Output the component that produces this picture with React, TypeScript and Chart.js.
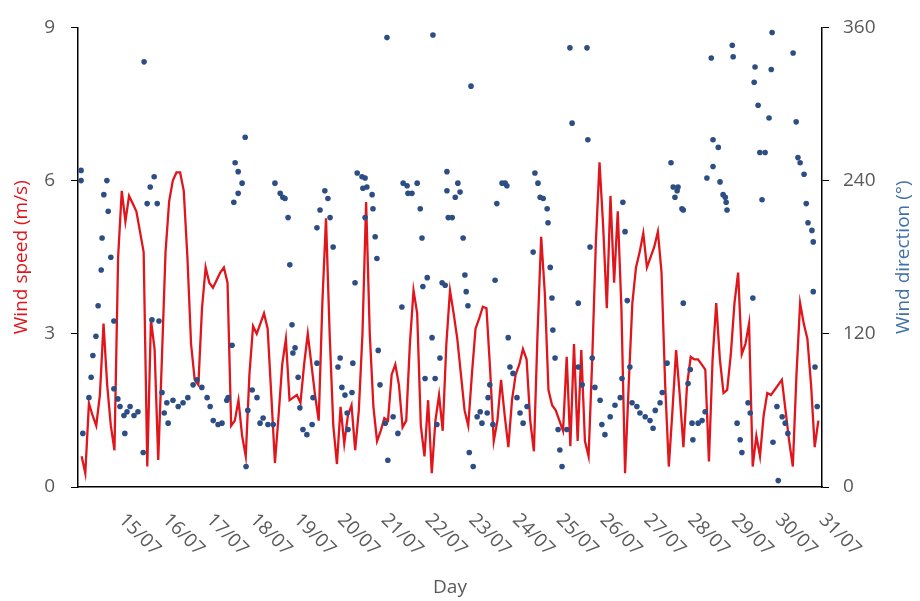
import React, { useEffect, useRef } from 'react';
import { Chart, registerables } from 'chart.js';

Chart.register(...registerables);

// X tick labels (days 1..17 after 14/07)
const xTickLabels = ['15/07', '16/07', '17/07', '18/07', '19/07', '20/07', '21/07', '22/07', '23/07', '24/07', '25/07', '26/07', '27/07', '28/07', '29/07', '30/07', '31/07'];

// Wind speed (m/s), every 2 hours starting at 14/07 02:00
const speedStartHour = 2;
const speedStepHours = 2;
const speedValues = [
  0.6, 0.27, 1.64, 1.4, 1.2, 1.8, 3.2, 2.0, 1.2, 0.72,
  4.5, 5.8, 5.2, 5.7, 5.55, 5.4, 5.0, 4.6, 0.4, 3.27,
  2.7, 0.53, 2.5, 4.6, 5.6, 6.0, 6.16, 6.16, 5.8, 4.5,
  2.8, 2.1, 2.0, 3.5, 4.3, 4.0, 3.9, 4.05, 4.2, 4.3,
  4.0, 1.2, 1.3, 1.7, 1.0, 0.6, 2.2, 3.15, 3.0, 3.2,
  3.4, 3.1, 1.8, 0.47, 1.4, 2.4, 2.9, 1.7, 1.75, 1.8,
  1.65, 2.4, 3.0, 2.4, 1.8, 1.3, 3.6, 5.26, 3.0, 1.2,
  0.45, 1.57, 0.85, 1.4, 1.6, 0.72, 1.5, 3.0, 5.58, 3.0,
  1.57, 0.9, 1.1, 1.35, 1.3, 2.2, 2.4, 2.0, 1.17, 1.3,
  2.8, 3.85, 3.4, 1.2, 0.6, 1.7, 0.27, 1.3, 1.8, 1.1,
  2.8, 3.85, 3.4, 2.9, 2.2, 1.5, 1.2, 2.2, 3.1, 3.3,
  3.53, 3.5, 2.3, 0.9, 1.3, 2.1, 1.4, 0.78, 1.7, 2.2,
  2.4, 2.7, 2.5, 1.3, 0.7, 3.0, 4.9, 3.8, 1.9, 1.6,
  1.5, 1.3, 1.1, 2.55, 0.8, 2.8, 0.9, 2.68, 0.9, 0.6,
  2.5, 4.8, 6.36, 5.1, 3.5, 5.7, 4.0, 5.4, 3.5, 0.27,
  2.0, 3.6, 4.3, 4.6, 4.97, 4.3, 4.5, 4.7, 5.0, 4.2,
  2.0, 0.4, 1.5, 2.68, 1.8, 0.78, 2.0, 2.55, 2.5, 2.5,
  2.4, 2.3, 0.5, 2.5, 3.6, 2.5, 1.84, 1.9, 2.6, 3.6,
  4.2, 2.6, 2.8, 3.2, 0.4, 1.0, 0.6, 1.4, 1.84, 1.8,
  1.9, 2.0, 2.1, 1.5, 0.9, 0.4, 2.2, 3.6, 3.2, 2.9,
  2.0, 0.78, 1.3
];

// Wind direction observations: time (days after 14/07 00:00) and direction (degrees)
const dirDay = [
  0.07, 0.07, 0.11, 0.25, 0.30, 0.34, 0.41, 0.46, 0.53, 0.55, 0.59, 0.66, 0.69, 0.75, 0.82, 0.82, 0.91, 0.96,
  1.05, 1.07, 1.12, 1.19, 1.28, 1.37, 1.49, 1.51, 1.58, 1.65, 1.69, 1.74, 1.81, 1.85, 1.92, 1.97,
  2.03, 2.06, 2.17, 2.29, 2.40, 2.51, 2.63, 2.72, 2.83, 2.95,
  3.02, 3.09, 3.20, 3.29, 3.40, 3.43, 3.52, 3.56, 3.59, 3.66, 3.66, 3.75, 3.82, 3.84, 3.88, 3.98,
  4.09, 4.16, 4.23, 4.34, 4.46, 4.50, 4.62, 4.68, 4.73, 4.80, 4.84, 4.89, 4.91, 4.96,
  5.03, 5.07, 5.14, 5.23, 5.35, 5.37, 5.46, 5.46, 5.53, 5.64, 5.71, 5.76, 5.83, 5.94, 5.99,
  6.03, 6.10, 6.15, 6.17, 6.26, 6.28, 6.33, 6.38, 6.49, 6.51, 6.56, 6.56, 6.60, 6.72, 6.74, 6.79, 6.83, 6.86, 6.90,
  7.02, 7.06, 7.08, 7.20, 7.31, 7.40, 7.43, 7.52, 7.54, 7.63, 7.75, 7.82, 7.86, 7.88, 7.93, 7.98,
  8.09, 8.11, 8.16, 8.20, 8.27, 8.32, 8.39, 8.43, 8.43, 8.46, 8.55, 8.62, 8.68, 8.73, 8.80, 8.84, 8.87, 8.91, 8.94, 8.98,
  9.03, 9.12, 9.19, 9.23, 9.35, 9.37, 9.41, 9.48, 9.53, 9.57, 9.69, 9.76, 9.80, 9.83, 9.87, 9.94,
  10.03, 10.10, 10.17, 10.26, 10.40, 10.44, 10.51, 10.56, 10.63, 10.72, 10.74, 10.79, 10.83, 10.85, 10.90, 10.97,
  11.01, 11.06, 11.17, 11.24, 11.29, 11.43, 11.43, 11.52, 11.63, 11.65, 11.70, 11.75, 11.81, 11.93, 11.97,
  12.04, 12.16, 12.27, 12.39, 12.43, 12.45, 12.50, 12.55, 12.61, 12.66, 12.77, 12.84, 12.96,
  13.07, 13.14, 13.19, 13.30, 13.35, 13.46, 13.55, 13.60, 13.64, 13.69, 13.71, 13.80, 13.83, 13.83, 13.94, 13.99,
  14.03, 14.05, 14.17, 14.26, 14.33, 14.37, 14.47, 14.51, 14.51, 14.63, 14.67, 14.74, 14.79, 14.81, 14.83, 14.95, 14.97,
  15.06, 15.13, 15.17, 15.31, 15.36, 15.42, 15.45, 15.47, 15.54, 15.58, 15.63, 15.70, 15.79, 15.84, 15.86, 15.88, 15.97,
  16.00, 16.09, 16.16, 16.22, 16.34, 16.41, 16.45, 16.50, 16.59, 16.64, 16.68, 16.77, 16.80, 16.80, 16.84, 16.89
];
const dirDeg = [
  248, 240, 42, 70, 86, 103, 118, 142, 170, 195, 229, 240, 216, 180, 130, 77, 69, 63,
  56, 42, 59, 63, 56, 59, 27, 333, 222, 235, 131, 243, 222, 130, 74, 58,
  66, 50, 68, 63, 66, 70, 80, 84, 78, 70,
  63, 52, 49, 50, 68, 70, 111, 223, 254, 247, 230, 238, 274, 16, 60, 76,
  70, 50, 54, 49, 49, 238, 230, 227, 226, 211, 174, 127, 105, 109,
  86, 62, 45, 41, 49, 70, 97, 203, 217, 232, 226, 211, 188, 94, 101,
  78, 72, 58, 45, 74, 97, 160, 246, 243, 234, 242, 211, 235, 229, 218, 196, 179, 107, 80,
  50, 352, 21, 55, 42, 141, 238, 236, 230, 230, 238, 218, 195, 157, 85, 164,
  117, 354, 85, 49, 101, 160, 158, 247, 232, 211, 211, 227, 238, 231, 195, 166, 153, 142, 27, 314,
  16, 55, 59, 50, 58, 70, 80, 49, 162, 222, 238, 238, 236, 117, 94, 89,
  70, 58, 50, 63, 184, 246, 238, 227, 226, 218, 207, 172, 148, 123, 101, 45,
  29, 16, 45, 344, 285, 144, 94, 80, 344, 272, 188, 101, 78, 68, 49,
  41, 55, 64, 70, 85, 223, 200, 146, 94, 66, 63, 58, 55,
  52, 46, 60, 66, 74, 97, 254, 235, 227, 232, 235, 218, 217, 144, 81, 92,
  50, 37, 50, 52, 59, 242, 336, 272, 251, 266, 239, 229, 227, 223, 217, 346, 337,
  50, 37, 27, 66, 58, 148, 317, 329, 299, 262, 225, 262, 289, 327, 356, 35, 63,
  5, 55, 50, 42, 340, 286, 258, 254, 245, 222, 207, 201, 192, 153, 94, 63
];

const speedTitle = 'Wind speed (m/s)';
const dirTitle = 'Wind direction (°)';
const xTitle = 'Day';

const FONT = "'Open Sans', 'DejaVu Sans', sans-serif";
const TICK_COLOR = '#595959';
const RED = '#e0161c';
const BLUE_PT = '#2d4e84';
const BLUE_TITLE = '#4270a8';

export default function App() {
  const ref = useRef<HTMLCanvasElement>(null);

  useEffect(() => {
    document.body.style.margin = '0';
    const canvas = ref.current;
    if (!canvas) return;

    const speedPoints = speedValues.map((v, i) => ({ x: (speedStartHour + i * speedStepHours) / 24, y: v }));
    const dirPoints = dirDay.map((d, i) => ({ x: d, y: dirDeg[i] }));

    const extraText = {
      id: 'extraText',
      afterDraw(chart: any) {
        const ctx = chart.ctx;
        const xs = chart.scales.x;
        const area = chart.chartArea;
        ctx.save();
        ctx.font = `19px ${FONT}`;
        ctx.fillStyle = TICK_COLOR;
        ctx.textAlign = 'left';
        ctx.textBaseline = 'middle';
        xTickLabels.forEach((lab, i) => {
          const px = xs.getPixelForValue(i + 1);
          ctx.save();
          ctx.translate(px, area.bottom + 30);
          ctx.rotate(Math.PI / 4);
          ctx.fillText(lab, 0, 0);
          ctx.restore();
        });
        ctx.save();
        ctx.translate(chart.width - 16, (area.top + area.bottom) / 2);
        ctx.rotate(-Math.PI / 2);
        ctx.textAlign = 'center';
        ctx.fillStyle = BLUE_TITLE;
        ctx.fillText(dirTitle, 0, 0);
        ctx.restore();
        ctx.restore();
      },
    };

    const chart = new Chart(canvas, {
      type: 'line',
      data: {
        datasets: [
          {
            type: 'scatter',
            label: 'Wind direction',
            data: dirPoints,
            yAxisID: 'y1',
            xAxisID: 'x',
            backgroundColor: BLUE_PT,
            borderColor: BLUE_PT,
            pointRadius: 2.8,
            pointBorderWidth: 0,
            showLine: false,
            order: 0,
          } as any,
          {
            type: 'line',
            label: 'Wind speed',
            data: speedPoints,
            yAxisID: 'y',
            xAxisID: 'x',
            borderColor: RED,
            borderWidth: 2.3,
            pointRadius: 0,
            tension: 0,
            fill: false,
            order: 1,
          } as any,
        ],
      },
      options: {
        responsive: true,
        maintainAspectRatio: false,
        animation: false,
        layout: { padding: { top: 27, left: 0, right: 0, bottom: 0 } },
        plugins: { legend: { display: false }, tooltip: { enabled: false } },
        scales: {
          x: {
            type: 'linear',
            position: 'bottom',
            min: 0,
            max: 17,
            ticks: { display: false, stepSize: 1 },
            grid: { display: true, drawOnChartArea: false, drawTicks: false },
            border: { display: true, color: '#000', width: 1.5 },
            title: { display: true, text: xTitle, color: TICK_COLOR, font: { family: FONT, size: 19 }, padding: { top: 0, bottom: 2 } },
            afterFit(s: any) { s.height = 114; },
          },
          y: {
            type: 'linear',
            position: 'left',
            min: 0,
            max: 9,
            ticks: { stepSize: 3, color: TICK_COLOR, font: { family: FONT, size: 19 }, padding: 16 },
            grid: { drawOnChartArea: false, drawTicks: true, tickLength: 7, color: '#000' },
            border: { display: true, color: '#000', width: 1.5 },
            title: { display: true, text: speedTitle, color: RED, font: { family: FONT, size: 19 }, padding: { top: 10, bottom: 0 } },
            afterFit(s: any) { s.width = 78; },
          },
          y1: {
            type: 'linear',
            position: 'right',
            min: 0,
            max: 360,
            ticks: { stepSize: 120, color: TICK_COLOR, font: { family: FONT, size: 19 }, padding: 14 },
            grid: { drawOnChartArea: false, drawTicks: true, tickLength: 7, color: '#000' },
            border: { display: true, color: '#000', width: 1.5 },
            afterFit(s: any) { s.width = 98; },
          },
        },
      } as any,
      plugins: [extraText],
    });

    return () => chart.destroy();
  }, []);

  return (
    <div style={{ position: 'relative', width: 920, height: 601 }}>
      <canvas ref={ref} />
    </div>
  );
}
